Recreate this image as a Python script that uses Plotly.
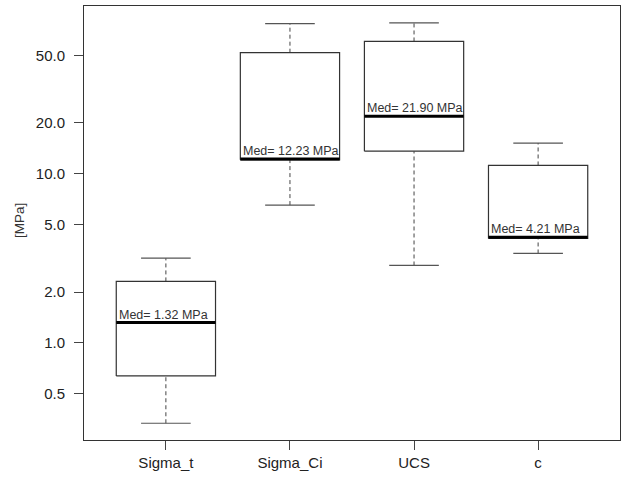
import plotly.graph_objects as go
import math

categories = ["Sigma_t", "Sigma_Ci", "UCS", "c"]
lower_whisker = [0.335, 6.53, 2.87, 3.38]
q1 = [0.638, 12.1, 13.6, 4.15]
median = [1.32, 12.23, 21.90, 4.21]
q3 = [2.31, 52.0, 60.6, 11.2]
upper_whisker = [3.17, 77.2, 78.0, 15.2]

ytick_vals = [0.5, 1.0, 2.0, 5.0, 10.0, 20.0, 50.0]
ytick_text = ["0.5", "1.0", "2.0", "5.0", "10.0", "20.0", "50.0"]

FONT = "Liberation Sans, Arial, sans-serif"
half = 0.4      # half box width (R boxwex 0.8)
cap = 0.2       # half staple width

fig = go.Figure()
annotations = []
for i, name in enumerate(categories):
    x = i + 1
    # dashed whiskers
    fig.add_trace(go.Scatter(x=[x, x], y=[q3[i], upper_whisker[i]], mode="lines",
                             line=dict(color="#444", width=1, dash="4px,3px"),
                             showlegend=False, hoverinfo="skip"))
    fig.add_trace(go.Scatter(x=[x, x], y=[lower_whisker[i], q1[i]], mode="lines",
                             line=dict(color="#444", width=1, dash="4px,3px"),
                             showlegend=False, hoverinfo="skip"))
    # staples
    for v in (upper_whisker[i], lower_whisker[i]):
        fig.add_trace(go.Scatter(x=[x - cap, x + cap], y=[v, v], mode="lines",
                                 line=dict(color="#555", width=1.2),
                                 showlegend=False, hoverinfo="skip"))
    # box
    fig.add_trace(go.Scatter(x=[x - half, x + half, x + half, x - half, x - half],
                             y=[q1[i], q1[i], q3[i], q3[i], q1[i]], mode="lines",
                             line=dict(color="#333", width=1.2),
                             fill="toself", fillcolor="white",
                             showlegend=False, hoverinfo="skip"))
    # median
    fig.add_trace(go.Scatter(x=[x - half, x + half], y=[median[i], median[i]], mode="lines",
                             line=dict(color="black", width=3),
                             showlegend=False, hoverinfo="skip"))
    annotations.append(dict(x=x - half, y=math.log10(median[i]), xref="x", yref="y",
                            text="Med= %.2f MPa" % median[i], showarrow=False,
                            xanchor="left", yanchor="bottom", xshift=1, yshift=-1,
                            font=dict(family=FONT, size=12.5, color="#333")))

annotations.append(dict(x=-0.119, y=0.505, xref="paper", yref="paper", text="[MPa]",
                        showarrow=False, textangle=-90, xanchor="center", yanchor="middle",
                        font=dict(family=FONT, size=13.5, color="#333")))

fig.update_layout(
    width=622, height=479,
    margin=dict(l=84, r=2, t=6, b=39),
    paper_bgcolor="white", plot_bgcolor="white",
    annotations=annotations,
    showlegend=False,
    xaxis=dict(range=[0.34, 4.66], tickvals=[1, 2, 3, 4], ticktext=categories,
               ticks="outside", ticklen=9, tickcolor="#444", tickwidth=1,
               showline=True, mirror=True, linecolor="#333", linewidth=1,
               showgrid=False, zeroline=False,
               tickfont=dict(family=FONT, size=15, color="#222")),
    yaxis=dict(type="log", range=[-0.574, 1.992], tickvals=ytick_vals, ticktext=ytick_text,
               ticks="outside", ticklen=9, tickcolor="#444", tickwidth=1,
               ticklabelstandoff=6,
               showline=True, mirror=True, linecolor="#333", linewidth=1,
               showgrid=False, zeroline=False,
               tickfont=dict(family=FONT, size=15, color="#222")),
)

fig.write_html("out.html", config={"displayModeBar": False},
               post_script="document.body.style.margin='0';document.body.style.padding='0';")
